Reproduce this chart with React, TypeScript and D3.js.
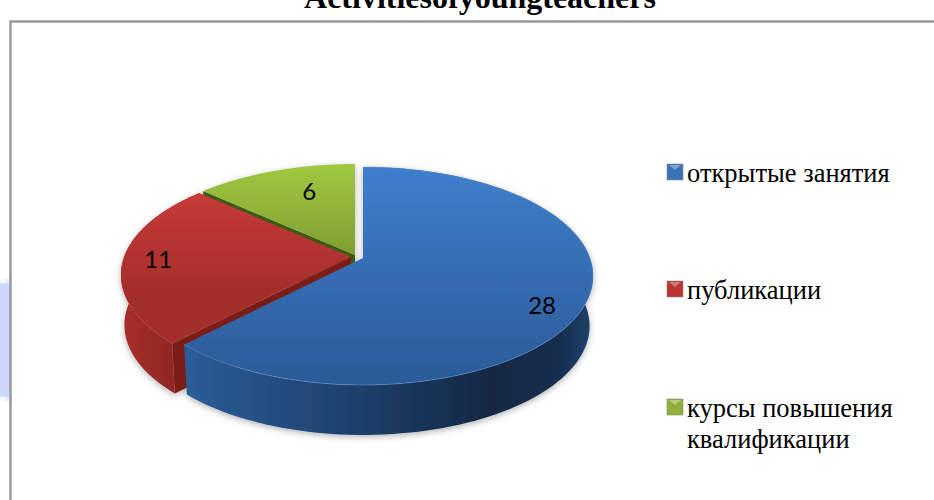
import React from "react";
import * as d3 from "d3";

const categories = ["открытые занятия", "публикации", "курсы повышения квалификации"];
const values = [28, 11, 6];
const titleText = "Activitiesofyoungteachers";

const width = 934;
const height = 500;

// pie is drawn in perspective: k pushes the near edge down and outwards
const k = 0.165;
const rx = 226.9;
const ry = 106;
const depth = 50;
const bottomScale = 0.985;

// apex of each exploded slice
const apex = [
    { x: 363, y: 258 },
    { x: 351, y: 257 },
    { x: 355, y: 255 },
];
const labelPos = [
    { t: 0.8, dx: 2, dy: 13 },
    { t: 0.846, dx: 0, dy: -2 },
    { t: 0.55, dx: 1, dy: -15 },
];

const project = (a: number, t: number, c: { x: number; y: number }, lower = false): [number, number] => {
    const u = Math.sin(a) * t;
    const v = Math.cos(a) * t;
    const den = 1 + k * v;
    const s = lower ? bottomScale : 1;
    return [c.x + (s * rx * u) / den, c.y - (ry * v) / den + (lower ? depth : 0)];
};

const pieGen = d3.pie<number>().sort(null).startAngle(0).endAngle(2 * Math.PI);
const lineGen = d3.line();

const arcPts = (a0: number, a1: number, c: { x: number; y: number }, lower = false) =>
    d3.range(0, 121).map((i) => project(a0 + ((a1 - a0) * i) / 120, 1, c, lower));

const topPath = (a0: number, a1: number, c: { x: number; y: number }) =>
    lineGen([[c.x, c.y], ...arcPts(a0, a1, c)]) + "Z";
const sidePath = (a0: number, a1: number, c: { x: number; y: number }) =>
    lineGen([...arcPts(a0, a1, c), ...arcPts(a0, a1, c, true).reverse()]) + "Z";
const wallPath = (a: number, c: { x: number; y: number }) => {
    const e = project(a, 1, c);
    const b = project(a, 1, c, true);
    return lineGen([[c.x, c.y], e, b, [c.x, c.y + depth]]) + "Z";
};

const topGrad = [
    ["#3f7fcd", "#2b5a97"],
    ["#d03e3b", "#a32d2b"],
    ["#a0c840", "#7d9d2f"],
];
const markerFill = ["#3a72b8", "#b83532", "#8fb03a"];
const legendY = [182, 299, 417];

const App = () => {
    const arcs = pieGen(values);
    const [blue, red, green] = arcs;
    return (
        <svg
            width={width}
            height={height}
            style={{ position: "absolute", left: 0, top: 0, background: "#fff" }}
        >
            <defs>
                {topGrad.map((g, i) => (
                    <linearGradient key={i} id={`top${i}`} gradientUnits="userSpaceOnUse" x1={0} x2={0} y1={165} y2={385}>
                        <stop offset="0" stopColor={g[0]} />
                        <stop offset={i === 0 ? "1" : i === 1 ? "0.6" : "0.42"} stopColor={g[1]} />
                    </linearGradient>
                ))}
                <linearGradient id="blueSide" gradientUnits="userSpaceOnUse" x1={185} x2={593} y1={0} y2={0}>
                    <stop offset="0" stopColor="#2c5c98" />
                    <stop offset="0.35" stopColor="#1f4573" />
                    <stop offset="0.75" stopColor="#142844" />
                    <stop offset="0.92" stopColor="#172e4e" />
                    <stop offset="1" stopColor="#21436e" />
                </linearGradient>
                <linearGradient id="redSide" gradientUnits="userSpaceOnUse" x1={120} x2={180} y1={0} y2={0}>
                    <stop offset="0" stopColor="#a92f2c" />
                    <stop offset="1" stopColor="#8e2623" />
                </linearGradient>
                <filter id="shadow" x="-20%" y="-20%" width="140%" height="140%">
                    <feDropShadow dx={0} dy={2} stdDeviation={3} floodColor="#000" floodOpacity={0.3} />
                </filter>
                <filter id="soft">
                    <feGaussianBlur stdDeviation={0.6} />
                </filter>
            </defs>

            <rect x={0} y={283} width={10} height={114} fill="#cdd7ff" />
            <rect x={5} y={279} width={5} height={4} fill="#e6ebff" />
            <rect x={5} y={397} width={5} height={4} fill="#e6ebff" />
            <path d={`M${width},21.5H10.5V${height}`} fill="none" stroke="#999" strokeWidth={2.5} />

            <text
                x={480}
                y={8}
                textAnchor="middle"
                fontFamily="'Liberation Serif'"
                fontWeight="bold"
                fontSize={32}
                fill="#000"
            >
                {titleText}
            </text>

            <g filter="url(#shadow)">
                <g filter="url(#soft)">
                    <path d={wallPath(green.startAngle, apex[2])} fill="#3f5a14" />
                    <path d={topPath(green.startAngle, green.endAngle, apex[2])} fill="url(#top2)" />

                    <path d={wallPath(red.startAngle, apex[1])} fill="#7b1a18" />
                    <path d={sidePath(red.startAngle, red.endAngle, apex[1])} fill="url(#redSide)" />
                    <path d={topPath(red.startAngle, red.endAngle, apex[1])} fill="url(#top1)" />

                    <path d={sidePath(blue.startAngle, blue.endAngle, apex[0])} fill="url(#blueSide)" />
                    <path d={topPath(blue.startAngle, blue.endAngle, apex[0])} fill="url(#top0)" />
                    <path
                        d={lineGen(arcPts(blue.startAngle, blue.endAngle, apex[0])) ?? ""}
                        fill="none"
                        stroke="#6d9bd6"
                        strokeOpacity={0.5}
                    />
                </g>
            </g>

            {arcs.map((d, i) => {
                const mid = (d.startAngle + d.endAngle) / 2;
                const [lx, ly] = project(mid, labelPos[i].t, apex[i]);
                return (
                    <text
                        key={i}
                        x={lx + labelPos[i].dx}
                        y={ly + labelPos[i].dy}
                        textAnchor="middle"
                        dominantBaseline="central"
                        fontFamily="Lato"
                        fontSize={24}
                        fill="#000"
                    >
                        {d.data}
                    </text>
                );
            })}

            {categories.map((c, i) => (
                <g key={i}>
                    <rect x={667} y={legendY[i] - 18} width={16} height={16} fill={markerFill[i]} stroke="#8a8a8a" strokeWidth={0.6} />
                    <path
                        d={`M669,${legendY[i] - 17}h12l-6,5Z`}
                        fill="#fff"
                        fillOpacity={0.35}
                    />
                </g>
            ))}
            <g fontFamily="'Liberation Serif'" fontSize={26.5} fill="#000">
                <text x={687} y={legendY[0]}>{categories[0]}</text>
                <text x={687} y={legendY[1]}>{categories[1]}</text>
                <text x={687} y={legendY[2]}>курсы повышения</text>
                <text x={687} y={legendY[2] + 31}>квалификации</text>
            </g>
        </svg>
    );
};

export default App;
